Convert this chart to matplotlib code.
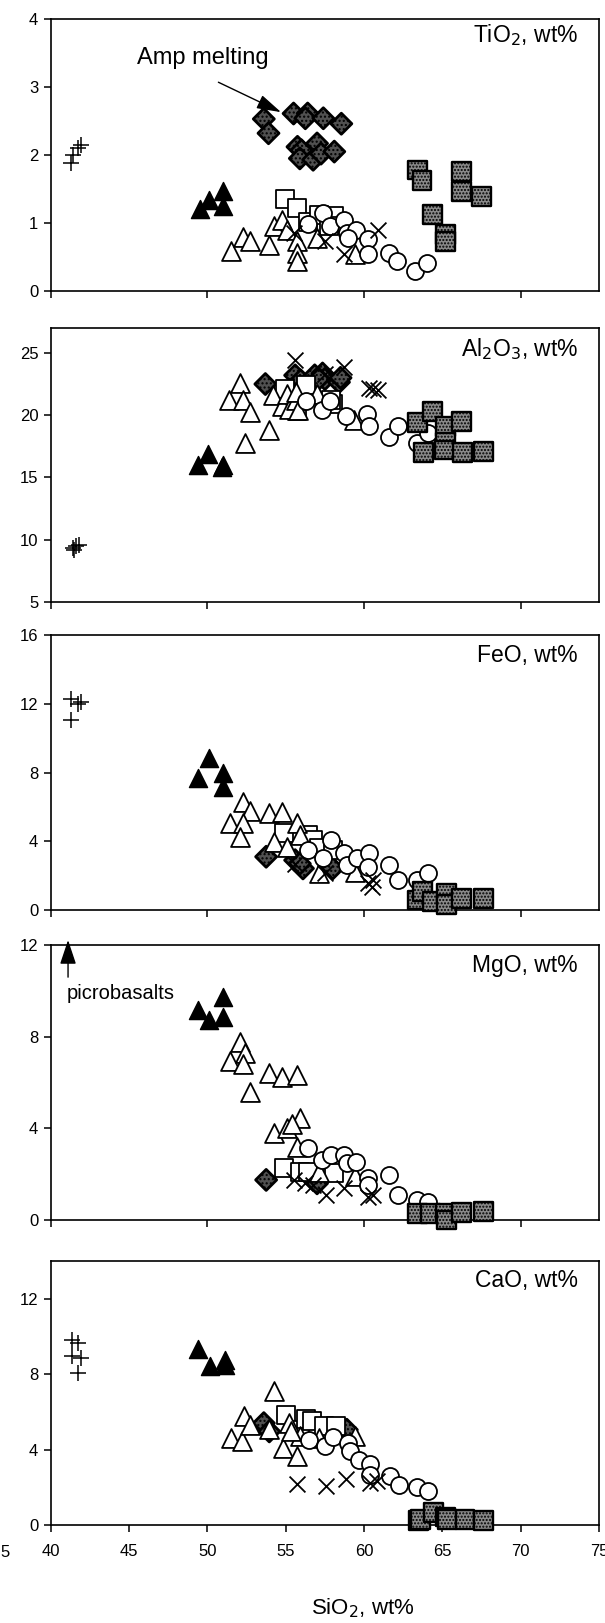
import matplotlib
matplotlib.use("Agg")
import matplotlib.pyplot as plt

plt.rcParams['font.family'] = ['Liberation Sans', 'DejaVu Sans']

# ---- data: (SiO2, oxide) pairs per symbol group ----
# TiO2
tio2_plus = [(41.3, 1.88), (41.4, 2.0), (41.75, 2.1), (41.9, 2.15)]
tio2_ftri = [(49.5, 1.2), (50.1, 1.34), (51.0, 1.47), (51.0, 1.25)]
tio2_otri = [(51.5, 0.59), (52.25, 0.8), (52.75, 0.73), (53.9, 0.68), (54.25, 0.95), (54.75, 1.05),
             (55.1, 0.9), (55.75, 0.73), (55.75, 0.56), (55.75, 0.44), (57.0, 0.78), (59.4, 0.54)]
tio2_diam = [(53.6, 2.53), (53.9, 2.32), (55.5, 2.61), (56.4, 2.61), (56.25, 2.54), (57.4, 2.54),
             (58.55, 2.46), (55.75, 2.12), (56.0, 2.07), (55.9, 1.95), (57.0, 2.17), (56.75, 1.93),
             (57.25, 2.02), (58.1, 2.05)]
tio2_osq = [(54.95, 1.36), (55.75, 1.22), (56.4, 1.02), (57.1, 1.12), (58.1, 1.1), (57.75, 0.95)]
tio2_circ = [(56.4, 0.98), (57.4, 1.15), (57.8, 0.95), (58.75, 1.05), (58.9, 0.85), (59.5, 0.9),
             (59.0, 0.78), (60.25, 0.76), (60.25, 0.54), (61.6, 0.56), (62.1, 0.44), (63.25, 0.29),
             (64.0, 0.41)]
tio2_x = [(60.9, 0.9), (57.5, 0.73), (58.75, 0.54), (55.5, 0.85)]
tio2_gsq = [(63.4, 1.78), (63.7, 1.63), (66.25, 1.76), (66.25, 1.46), (67.5, 1.39), (64.4, 1.12),
            (65.2, 0.83), (65.2, 0.73)]

# Al2O3
al_plus = [(41.4, 9.3), (41.6, 9.5), (41.8, 9.6), (41.5, 9.2)]
al_ftri = [(49.4, 15.98), (50.05, 16.9), (51.0, 16.0), (50.9, 15.85)]
al_otri = [(51.4, 21.25), (52.1, 22.6), (52.3, 21.2), (52.7, 20.26), (52.4, 17.77), (53.95, 18.8),
           (54.2, 21.6), (54.75, 20.7), (55.05, 21.7), (55.2, 20.5), (55.65, 21.2), (55.8, 20.4),
           (55.65, 21.9), (57.0, 21.7), (59.35, 19.6)]
al_diam = [(53.7, 22.5), (55.6, 23.2), (55.95, 22.8), (56.85, 23.2), (57.35, 23.35), (57.5, 22.9),
           (58.4, 22.65), (58.5, 23.0), (57.1, 22.9)]
al_osq = [(54.95, 22.1), (55.7, 20.3), (56.3, 22.4), (58.05, 20.9), (57.9, 21.2)]
al_circ = [(56.3, 21.1), (57.3, 20.4), (57.8, 21.1), (58.85, 19.9), (60.2, 20.1), (60.3, 19.1),
           (61.6, 18.25), (62.2, 19.1), (63.35, 17.8), (64.1, 18.6)]
al_x = [(55.6, 24.4), (58.7, 23.9), (60.3, 22.2), (60.6, 22.1), (60.9, 22.0), (57.5, 23.3)]
al_gsq = [(63.4, 19.4), (64.4, 20.3), (65.2, 19.1), (66.25, 19.5), (63.8, 17.0), (65.2, 17.85),
          (65.15, 17.2), (66.3, 17.0), (67.6, 17.05)]

# FeO
fe_plus = [(41.3, 12.3), (41.3, 11.05), (41.75, 12.0), (41.9, 12.1)]
fe_ftri = [(49.4, 7.66), (50.1, 8.82), (51.0, 7.95), (51.0, 7.18)]
fe_otri = [(51.45, 5.04), (52.25, 6.3), (52.75, 5.78), (52.3, 5.08), (52.1, 4.27), (53.95, 5.62),
           (54.75, 5.68), (54.25, 3.98), (55.1, 3.68), (55.75, 5.04), (55.9, 4.36), (57.1, 2.13),
           (59.4, 2.23)]
fe_diam = [(53.75, 3.1), (55.6, 2.9), (56.1, 2.42), (58.0, 2.42), (55.9, 2.7)]
fe_osq = [(54.9, 4.46), (56.4, 4.36), (56.75, 4.07), (57.1, 3.6), (58.0, 3.5)]
fe_circ = [(56.4, 3.5), (57.4, 3.0), (57.9, 4.07), (58.75, 3.3), (58.9, 2.6), (59.55, 3.0),
           (60.3, 3.3), (60.25, 2.52), (61.6, 2.62), (62.2, 1.75), (63.35, 1.75), (64.1, 2.13)]
fe_x = [(60.25, 1.55), (60.6, 1.75), (57.5, 2.13), (60.5, 1.36), (55.6, 2.7)]
fe_gsq = [(63.4, 0.58), (63.75, 1.07), (64.4, 0.5), (65.25, 0.97), (65.25, 0.3), (66.25, 0.68),
          (67.6, 0.68)]

# MgO
mg_plus = []
mg_ftri = [(49.4, 9.16), (50.1, 8.73), (51.0, 9.72), (51.0, 8.87)]
mg_otri = [(52.1, 7.78), (51.45, 6.95), (52.4, 7.27), (52.3, 6.8), (52.7, 5.6), (53.95, 6.4),
           (54.75, 6.25), (55.7, 6.33), (55.9, 4.44), (54.25, 3.78), (55.1, 4.0), (55.4, 4.2),
           (55.75, 3.2), (57.1, 2.1), (59.4, 1.9)]
mg_diam = [(53.75, 1.75), (57.0, 1.6)]
mg_osq = [(54.9, 2.28), (55.9, 2.1), (56.4, 2.1), (58.1, 2.04)]
mg_circ = [(56.4, 3.13), (57.3, 2.62), (57.9, 2.84), (58.75, 2.84), (58.9, 2.47), (59.5, 2.55),
           (60.25, 1.82), (60.25, 1.53), (61.6, 1.96), (62.2, 1.09), (63.35, 0.87), (64.1, 0.8)]
mg_x = [(55.55, 1.75), (56.25, 1.6), (56.75, 1.53), (57.55, 1.09), (58.75, 1.38), (60.25, 1.02),
        (60.6, 1.09)]
mg_gsq = [(63.4, 0.29), (64.25, 0.29), (65.2, 0.29), (65.25, 0.0), (66.25, 0.32), (67.6, 0.39)]

# CaO
ca_plus = [(41.35, 9.79), (41.75, 9.65), (41.35, 8.94), (41.9, 8.85), (41.75, 8.06)]
ca_ftri = [(49.4, 9.33), (50.15, 8.45), (51.1, 8.76), (51.1, 8.5)]
ca_otri = [(51.5, 4.6), (52.2, 4.43), (52.35, 5.76), (52.7, 5.3), (53.95, 5.09), (54.25, 7.08),
           (54.8, 4.08), (55.2, 5.4), (55.75, 3.64), (55.9, 4.7), (57.1, 4.6), (59.4, 4.7),
           (55.35, 4.96)]
ca_diam = [(53.6, 5.4), (53.95, 4.96), (58.9, 5.05)]
ca_osq = [(55.0, 5.85), (55.9, 5.05), (56.3, 5.64), (56.7, 5.5), (57.45, 5.23), (58.2, 5.23)]
ca_circ = [(56.5, 4.52), (57.5, 4.17), (58.0, 4.66), (59.0, 4.35), (59.1, 3.9), (59.7, 3.46),
           (60.4, 3.25), (60.35, 2.67), (61.65, 2.61), (62.25, 2.14), (63.35, 2.01), (64.1, 1.78)]
ca_x = [(55.75, 2.19), (57.55, 2.08), (58.85, 2.44), (60.35, 2.23), (60.8, 2.31)]
ca_gsq = [(63.5, 0.25), (63.6, 0.28), (64.45, 0.64), (65.2, 0.42), (65.3, 0.28), (66.45, 0.28),
          (67.65, 0.25)]

labels = ['TiO$_2$, wt%', 'Al$_2$O$_3$, wt%', 'FeO, wt%', 'MgO, wt%', 'CaO, wt%']
ylims = [(0, 4), (5, 27), (0, 16), (0, 12), (0, 14)]
yticks = [[0, 1, 2, 3, 4], [5, 10, 15, 20, 25], [0, 4, 8, 12, 16], [0, 4, 8, 12], [0, 4, 8, 12]]

panels = [
    [tio2_plus, tio2_ftri, tio2_diam, tio2_osq, tio2_otri, tio2_circ, tio2_x, tio2_gsq],
    [al_plus, al_ftri, al_diam, al_osq, al_otri, al_circ, al_x, al_gsq],
    [fe_plus, fe_ftri, fe_diam, fe_osq, fe_otri, fe_circ, fe_x, fe_gsq],
    [mg_plus, mg_ftri, mg_diam, mg_osq, mg_otri, mg_circ, mg_x, mg_gsq],
    [ca_plus, ca_ftri, ca_diam, ca_osq, ca_otri, ca_circ, ca_x, ca_gsq],
]

styles = [
    dict(marker='+', color='black', s=130, linewidths=1.1),
    dict(marker='^', facecolor='black', edgecolor='black', s=170, linewidths=1.0),
    dict(marker='D', facecolor='#505050', edgecolor='black', s=115, linewidths=2.0, hatch='....'),
    dict(marker='s', facecolor='white', edgecolor='black', s=170, linewidths=1.3),
    dict(marker='^', facecolor='white', edgecolor='black', s=185, linewidths=1.3),
    dict(marker='o', facecolor='white', edgecolor='black', s=150, linewidths=1.3),
    dict(marker='x', color='black', s=130, linewidths=1.3),
    dict(marker='s', facecolor='#8a8a8a', edgecolor='black', s=185, linewidths=1.7, hatch='.....'),
]

# panel boxes (figure fraction)
boxes = [(0.8207, 0.1676), (0.6291, 0.1688), (0.4393, 0.1694), (0.2483, 0.1694), (0.0604, 0.1627)]

fig = plt.figure(figsize=(6.05, 16.23), dpi=100)

axes = []
for i, (b, h) in enumerate(boxes):
    ax = fig.add_axes([0.084, b, 0.906, h])
    for pts, st in zip(panels[i], styles):
        if not pts:
            continue
        xs = [p[0] for p in pts]
        ys = [p[1] for p in pts]
        ax.scatter(xs, ys, clip_on=False, zorder=3, **st)
    ax.set_xlim(40, 75)
    ax.set_ylim(*ylims[i])
    ax.set_yticks(yticks[i])
    if i < 4:
        ax.set_xticks([40, 50, 60, 70])
        ax.set_xticklabels([])
    else:
        ax.set_xticks([40, 45, 50, 55, 60, 65, 70, 75])
    ax.tick_params(direction='out', length=5, width=1.1, labelsize=12, pad=4)
    ax.tick_params(axis='x', pad=9)
    for sp in ax.spines.values():
        sp.set_linewidth(1.2)
    ax.text(0.962, 0.94 if i == 0 else 0.925, labels[i], transform=ax.transAxes,
            ha='right', va='center', fontsize=16.5)
    axes.append(ax)

# annotations
axes[0].annotate('', xy=(54.7, 2.63), xytext=(50.7, 3.07),
                 arrowprops=dict(arrowstyle='-|>,head_length=0.75,head_width=0.22',
                                 color='black', lw=1.0, mutation_scale=20,
                                 shrinkA=0, shrinkB=0))
axes[0].text(45.5, 3.43, 'Amp melting', fontsize=17, ha='left', va='center')

axes[3].annotate('', xy=(41.1, 12.22), xytext=(41.1, 10.6),
                 arrowprops=dict(arrowstyle='-|>,head_length=0.75,head_width=0.25',
                                 color='black', lw=1.0, mutation_scale=20,
                                 shrinkA=0, shrinkB=0),
                 annotation_clip=False)
axes[3].text(41.0, 9.9, 'picrobasalts', fontsize=14.5, ha='left', va='center')

fig.text(0.60, 0.009, 'SiO$_2$, wt%', ha='center', va='center', fontsize=16)
fig.text(0.0, 0.0433, '5', ha='left', va='center', fontsize=12)

fig.savefig('out.png', dpi=100)
